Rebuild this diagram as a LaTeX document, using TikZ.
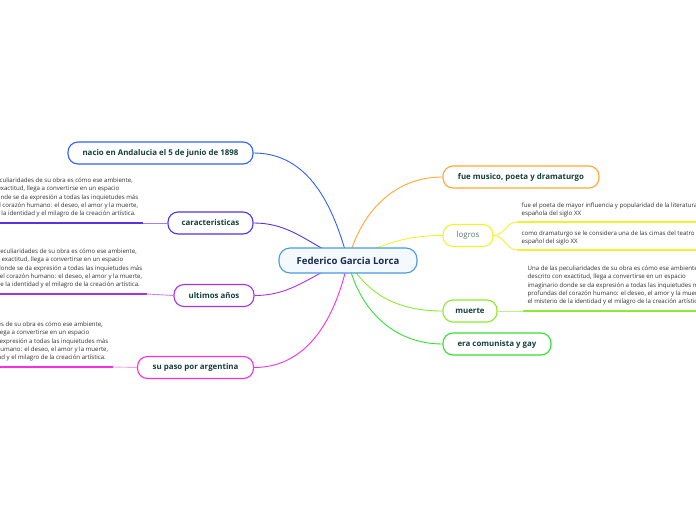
\documentclass[tikz,border=0pt]{standalone}
\usepackage{fontspec}
\setmainfont{Open Sans}
\usepackage{xcolor}
\usetikzlibrary{positioning, backgrounds}
\definecolor{rootcol}{HTML}{4A9BDD}
\definecolor{rootfill}{HTML}{F3F9FE}
\definecolor{roottext}{HTML}{1C2A4C}
\definecolor{labelcol}{HTML}{15403A}
\definecolor{logrotext}{HTML}{557A70}
\definecolor{notetext}{HTML}{2E2E2E}
\definecolor{nacicol}{HTML}{2F62F5}
\definecolor{caraccol}{HTML}{5A2FE6}
\definecolor{ultimcol}{HTML}{A433EE}
\definecolor{argcol}{HTML}{F52FE2}
\definecolor{musicol}{HTML}{FFA733}
\definecolor{logrocol}{HTML}{F2F22C}
\definecolor{muertcol}{HTML}{8EEA2E}
\definecolor{comucol}{HTML}{36DE36}
\newcommand{\obratexto}{Una de las peculiaridades de su obra es cómo ese ambiente,\\
descrito con exactitud, llega a convertirse en un espacio\\
imaginario donde se da expresión a todas las inquietudes más\\
profundas del corazón humano: el deseo, el amor y la muerte,\\
el misterio de la identidad y el milagro de la creación artística.}
\tikzstyle{central} = [
rectangle,
rounded corners=11pt,
minimum height=25pt,
draw=rootcol,
fill=rootfill,
line width=1.1pt,
text=roottext,
font=\fontsize{9.6}{11}\selectfont\bfseries
]
\tikzstyle{topic} = [
rectangle,
rounded corners=10pt,
minimum height=22pt,
fill=white,
line width=1.1pt,
text=labelcol,
font=\fontsize{7.9}{9}\selectfont\bfseries
]
\tikzstyle{note} = [
align=left,
inner xsep=4.5pt,
inner ysep=5.5pt,
text=notetext,
font=\fontsize{6.1}{8.3}\selectfont
]
\tikzstyle{link}=[line width=0.9pt]
\tikzstyle{noteline}=[line width=1.6pt]

\begin{document}
\begin{tikzpicture}[x=1pt, y=-1pt]

        \useasboundingbox (0,0) rectangle (696,520);
        \clip (0,0) rectangle (696,520);

        \node(root)[central, minimum width=138pt] at (348,260.5)
        {Federico Garcia Lorca};

        \node(nacio)[topic, draw=nacicol, minimum width=185pt] at (160.5,153)
        {nacio en Andalucia el 5 de junio de 1898};

        \node(carac)[topic, draw=caraccol, minimum width=85pt] at (210.5,223)
        {caracteristicas};

        \node(ultimos)[topic, draw=ultimcol, minimum width=80pt] at (214,295.5)
        {ultimos años};

        \node(argentina)[topic, draw=argcol, minimum width=116pt] at (195.5,367.5)
        {su paso por argentina};

        \node(musico)[topic, draw=musicol, minimum width=156pt] at (521,177)
        {fue musico, poeta y dramaturgo};

        \node(logros)[topic, draw=logrocol, minimum width=50pt, text=logrotext, font=\fontsize{7.9}{9}\selectfont] at (468,235.5)
        {logros};

        \node(muerte)[topic, draw=muertcol, minimum width=54pt] at (470,311)
        {muerte};

        \node(comunista)[topic, draw=comucol, minimum width=108pt] at (497,344)
        {era comunista y gay};

        \node(caractxt)[note, anchor=south east] at (143,223) {\obratexto};

        \node(ultimtxt)[note, anchor=south east] at (147,294) {\obratexto};

        \node(argtxt)[note, anchor=south east] at (113,367) {\obratexto};

        \node(muertxt)[note, anchor=south west] at (523,311) {\obratexto};

        \node(logro1)[note, anchor=south west, inner ysep=5pt] at (517,222)
        {fue el poeta de mayor influencia y popularidad de la literatura\\española del siglo XX};

        \node(logro2)[note, anchor=south west, inner ysep=5pt] at (517,250)
        {como dramaturgo se le considera una de las cimas del teatro\\español del siglo XX};

        \begin{scope}[on background layer]
        \draw[link, nacicol] (root.center) to[out=105, in=0] (nacio.east);
        \draw[link, caraccol] (root.center) to[out=160, in=0] (carac.east);
        \draw[link, ultimcol] (root.center) to[out=200, in=0] (ultimos.east);
        \draw[link, argcol] (root.center) to[out=258, in=0] (argentina.east);
        \draw[link, musicol] (root.center) to[out=75, in=180] (musico.west);
        \draw[link, logrocol] (root.center) to[out=25, in=180] (logros.west);
        \draw[link, muertcol] (root.center) to[out=-60, in=180] (muerte.west);
        \draw[link, comucol] (root.center) to[out=-78, in=180] (comunista.west);
        \end{scope}

        \draw[noteline, caraccol] (caractxt.south west) -- (caractxt.south east);
        \draw[link, caraccol!60] (caractxt.south east) -- (carac.west);

        \draw[noteline, ultimcol] (ultimtxt.south west) -- (ultimtxt.south east);
        \draw[link, ultimcol!60] (ultimtxt.south east) -- (ultimos.west);

        \draw[noteline, argcol] (argtxt.south west) -- (argtxt.south east);
        \draw[link, argcol!45] (argtxt.south east) -- (argentina.west);

        \draw[noteline, muertcol] (muertxt.south west) -- (muertxt.south east);
        \draw[link, muertcol!60] (muerte.east) -- (muertxt.south west);

        \draw[noteline, logrocol] (logro1.south west) -- (logro1.south east);
        \draw[noteline, logrocol] (logro2.south west) -- (logro2.south east);
        \draw[link, logrocol] (logros.east) to[out=0, in=180] (logro1.south west);
        \draw[link, logrocol] (logros.east) to[out=0, in=180] (logro2.south west);

\end{tikzpicture}
\end{document}
